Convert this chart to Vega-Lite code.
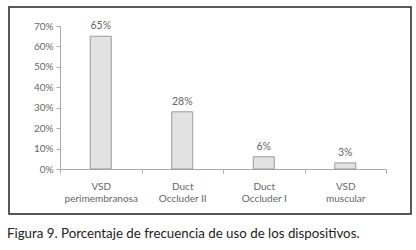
{
  "$schema": "https://vega.github.io/schema/vega-lite/v6.json",
  "width": 402,
  "height": 207,
  "autosize": "none",
  "padding": {"left": 9, "top": 7, "right": 5, "bottom": 36},
  "background": "white",
  "config": {
    "font": "Lato",
    "view": {"stroke": "#222222", "strokeWidth": 1.5},
    "axis": {"labelFont": "Lato", "labelColor": "#666666", "labelFontSize": 10, "domainColor": "#aaaaaa", "tickColor": "#aaaaaa", "tickSize": 4, "grid": false, "title": null}
  },
  "title": {
    "text": "Figura 9. Porcentaje de frecuencia de uso de los dispositivos.",
    "orient": "bottom",
    "anchor": "start",
    "frame": "group",
    "offset": 13,
    "dx": -2,
    "font": "Lato",
    "fontSize": 13.3,
    "fontWeight": "normal",
    "color": "#222222"
  },
  "data": {
    "values": [
      {"device": "VSD perimembranosa", "pct": 0.65},
      {"device": "Duct Occluder II", "pct": 0.28},
      {"device": "Duct Occluder I", "pct": 0.06},
      {"device": "VSD muscular", "pct": 0.03}
    ]
  },
  "encoding": {
    "x": {
      "field": "device",
      "type": "nominal",
      "sort": null,
      "scale": {"range": [51, 377], "paddingInner": 0, "paddingOuter": 0},
      "axis": {
        "labelAngle": 0,
        "offset": -45,
        "tickBand": "extent",
        "labelPadding": 8,
        "labelLineHeight": 12,
        "labelExpr": "[substring(datum.label, 0, indexof(datum.label, ' ')), substring(datum.label, indexof(datum.label, ' ') + 1)]"
      }
    },
    "y": {
      "field": "pct",
      "type": "quantitative",
      "scale": {"domain": [0, 0.7], "range": [162, 19], "nice": false},
      "axis": {"offset": -51, "values": [0, 0.1, 0.2, 0.3, 0.4, 0.5, 0.6, 0.7], "format": ".0%", "labelPadding": 3}
    }
  },
  "layer": [
    {
      "mark": {"type": "bar", "width": 21, "fill": "#e2e2e2", "stroke": "#9a9a9a", "strokeWidth": 1}
    },
    {
      "mark": {"type": "text", "dy": -10, "fontSize": 10.5, "color": "#666666", "font": "Lato"},
      "encoding": {"text": {"field": "pct", "type": "quantitative", "format": ".0%"}}
    }
  ]
}
